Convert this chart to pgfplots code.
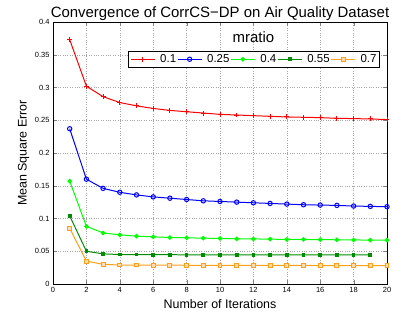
\documentclass[border=0pt]{standalone}
\usepackage{fontspec}
\setmainfont{Liberation Sans}
\usepackage{pgfplots}
\pgfplotsset{compat=1.18}
\definecolor{dgreen}{rgb}{0,0.55,0}
\definecolor{orng}{rgb}{1,0.62,0.1}
\begin{document}
\begin{tikzpicture}
\begin{axis}[
  scale only axis, width=334bp, height=262bp,
  xmin=0, xmax=20, ymin=0, ymax=0.4,
  xtick={0,2,...,20}, ytick={0,0.05,...,0.4},
  yticklabels={0,0.05,0.1,0.15,0.2,0.25,0.3,0.35,0.4},
  grid=major, grid style={dotted, gray!70},
  tick align=inside, tick pos=both,
  axis line style={line width=0.9pt},
  tick label style={font=\fontsize{7.5}{8}\selectfont},
  /pgf/number format/assume math mode=true,
  title={Convergence of CorrCS{\char"2212}DP on Air Quality Dataset},
  title style={font=\fontsize{15}{16}\selectfont, at={(axis description cs:0.5,1)}, anchor=base, inner sep=0pt, yshift=-1bp},
  xlabel={Number of Iterations}, ylabel={Mean Square Error},
  label style={font=\fontsize{12.5}{13}\selectfont},
  xlabel style={at={(axis description cs:0.5,0)}, anchor=base, inner sep=0pt, yshift=-24bp},
  ylabel style={at={(axis description cs:-0.079,0.5)}, anchor=base, inner sep=0pt},
  legend columns=5,
  legend style={at={(0.979,0.889)}, anchor=north east, font=\fontsize{11.5}{12}\selectfont, draw=black, line width=0.9pt, inner sep=2pt,
    /tikz/every even column/.style={column sep=0pt},
    /tikz/every odd column/.style={column sep=4bp},
    nodes={inner sep=1pt}},
  legend image code/.code={\draw[mark repeat=2,mark phase=2,#1] plot coordinates {(0bp,0bp)(12bp,0bp)(24bp,0bp)};},
  every axis plot/.append style={line width=1pt},
]
\addplot[red, mark=+, mark size=2.5pt] coordinates {(1,0.373)(2,0.302)(3,0.286)(4,0.277)(5,0.272)(6,0.268)(7,0.265)(8,0.263)(9,0.261)(10,0.259)(11,0.258)(12,0.257)(13,0.256)(14,0.255)(15,0.2545)(16,0.254)(17,0.253)(18,0.2525)(19,0.252)(20,0.251)};
\addplot[blue, mark=o, mark size=2.2pt] coordinates {(1,0.237)(2,0.160)(3,0.146)(4,0.140)(5,0.136)(6,0.133)(7,0.131)(8,0.129)(9,0.127)(10,0.126)(11,0.125)(12,0.124)(13,0.123)(14,0.122)(15,0.121)(16,0.1205)(17,0.120)(18,0.119)(19,0.1185)(20,0.118)};
\addplot[green, mark=*, mark size=1.8pt] coordinates {(1,0.157)(2,0.088)(3,0.078)(4,0.075)(5,0.073)(6,0.072)(7,0.071)(8,0.0705)(9,0.070)(10,0.0695)(11,0.069)(12,0.0688)(13,0.0685)(14,0.068)(15,0.068)(16,0.0678)(17,0.0675)(18,0.0673)(19,0.067)(20,0.067)};
\addplot[dgreen, mark=square*, mark size=1.4pt] coordinates {(1,0.104)(2,0.050)(3,0.046)(4,0.045)(5,0.045)(6,0.0448)(7,0.0447)(8,0.0446)(9,0.0446)(10,0.0445)(11,0.0445)(12,0.0445)(13,0.0445)(14,0.0445)(15,0.0445)(16,0.0445)(17,0.0445)(18,0.0445)(19,0.0445)};
\addplot[orng, mark=square*, mark size=2pt, mark options={draw=orng, fill=orng!35}] coordinates {(1,0.085)(2,0.035)(3,0.030)(4,0.029)(5,0.029)(6,0.0288)(7,0.0287)(8,0.0286)(9,0.0285)(10,0.0285)(11,0.0284)(12,0.0284)(13,0.0283)(14,0.0283)(15,0.0283)(16,0.0282)(17,0.0282)(18,0.0282)(19,0.0282)(20,0.0282)};
\legend{0.1,0.25,0.4,0.55,0.7}
\node[font=\fontsize{15}{16}\selectfont] at (axis cs:12,0.377) {mratio};
\end{axis}
\pgfresetboundingbox
\path (current axis.south west) ++(-53bp,-33bp) coordinate (bl);
\path (current axis.north east) ++(12bp,22bp) coordinate (tr);
\useasboundingbox (bl) rectangle (tr);
\end{tikzpicture}
\end{document}
